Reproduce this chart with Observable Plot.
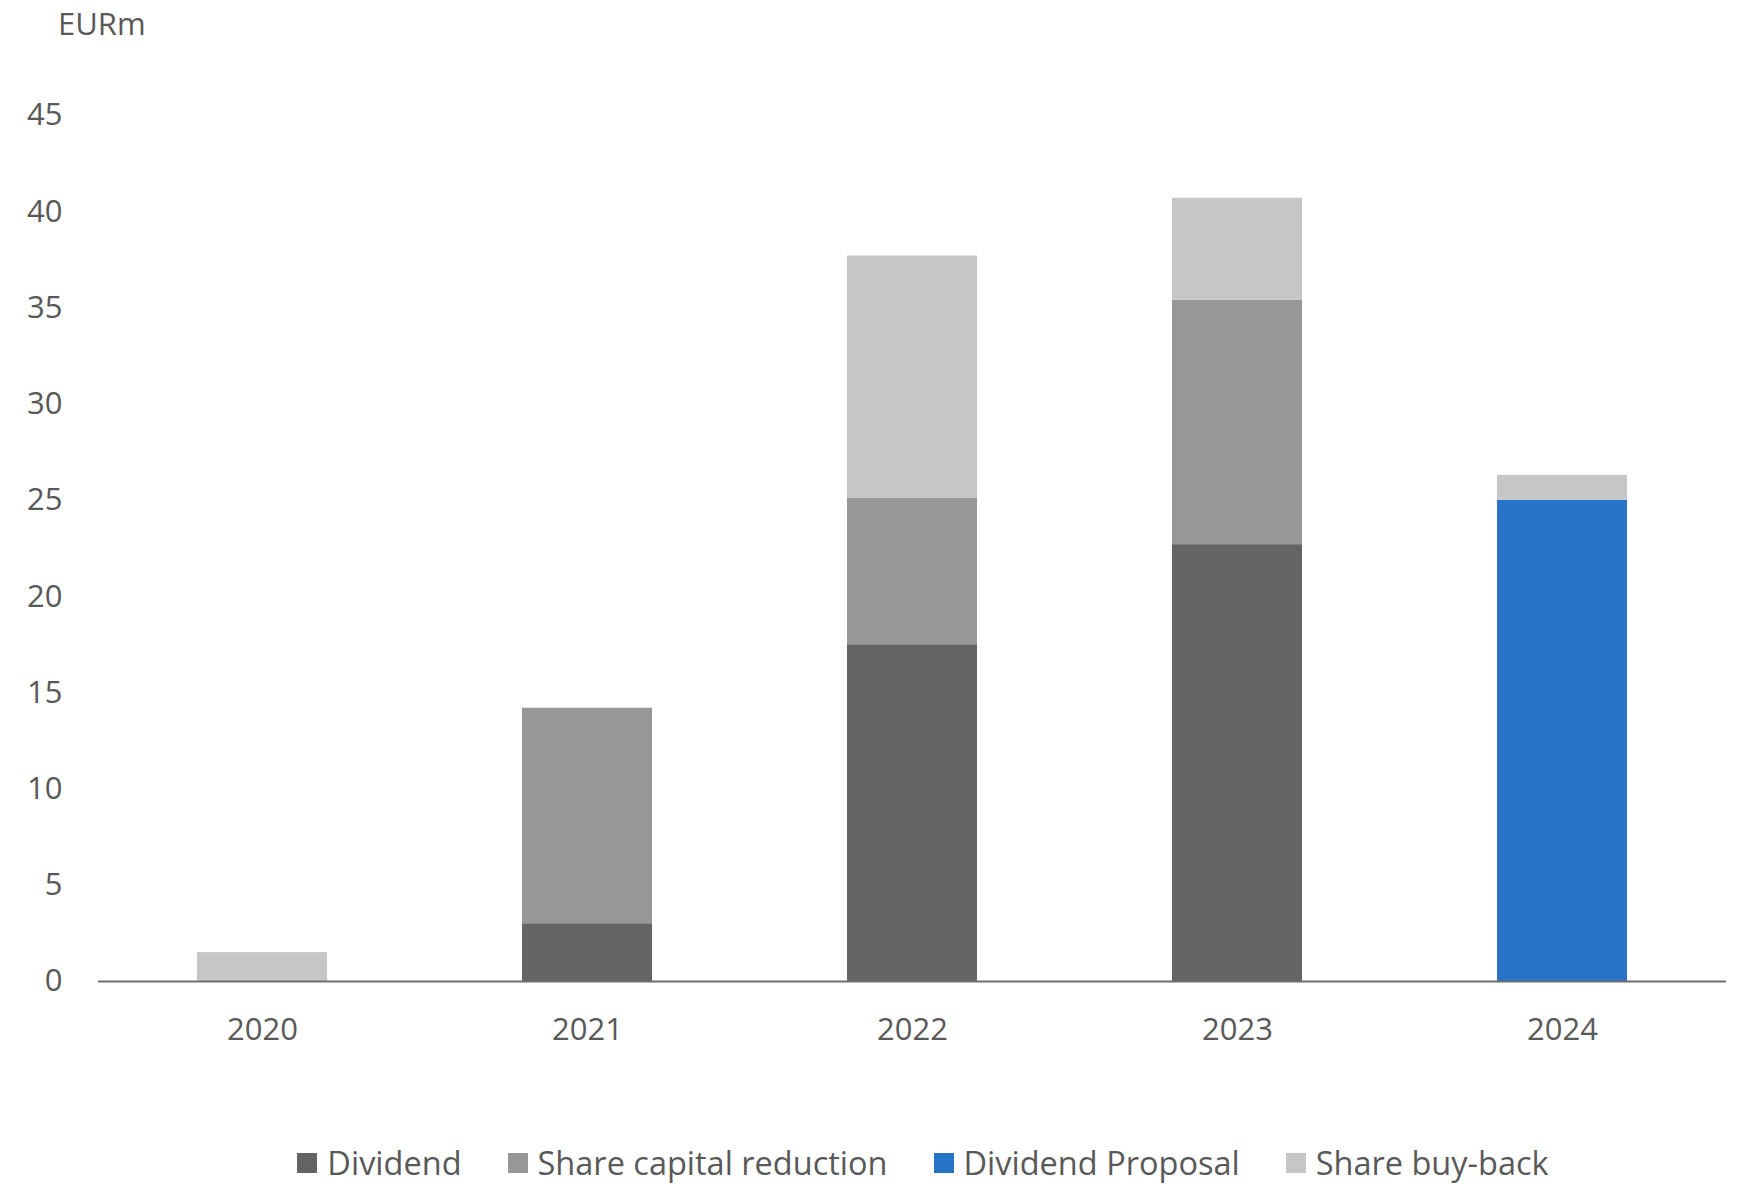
<!DOCTYPE html>
<html>
<head>
<meta charset="utf-8">
<script src="https://cdn.jsdelivr.net/npm/d3@7"></script>
<script src="https://cdn.jsdelivr.net/npm/@observablehq/plot@0.6"></script>
<style>
  html, body { margin: 0; padding: 0; background: #fff; }
  body { font-family: "Open Sans", sans-serif; color: #595959; }
  #page { position: relative; width: 1748px; height: 1187px; overflow: hidden; }
  #unit { position: absolute; left: 58px; top: 2px; font-size: 31px; line-height: normal; color: #595959; }
  #chart { position: absolute; left: 0; top: 50px; }
  #legend { position: absolute; left: 0; top: 1147px; width: 1748px; box-sizing: border-box; padding-left: 98px;
            display: flex; justify-content: center; gap: 46px; font-size: 32.5px; line-height: 32px; color: #595959; }
  .item { display: flex; align-items: center; gap: 10px; white-space: nowrap; }
  .sw { width: 20px; height: 20px; display: inline-block; }
</style>
</head>
<body>
<div id="page">
  <div id="unit">EURm</div>
  <div id="chart"></div>
  <div id="legend"></div>
</div>
<script>
const years = ["2020", "2021", "2022", "2023", "2024"];
const seriesNames = ["Dividend", "Share capital reduction", "Dividend Proposal", "Share buy-back"];
const seriesColors = ["#646464", "#979797", "#2773C8", "#C6C6C6"];
const dividend = [0, 3.0, 17.5, 22.7, 0];
const shareCapitalReduction = [0, 11.2, 7.6, 12.7, 0];
const dividendProposal = [0, 0, 0, 0, 25.0];
const shareBuyBack = [1.5, 0, 12.6, 5.3, 1.3];
const yTicks = [0, 5, 10, 15, 20, 25, 30, 35, 40, 45];

const seriesValues = [dividend, shareCapitalReduction, dividendProposal, shareBuyBack];
const rows = [];
seriesNames.forEach((s, i) => {
  years.forEach((y, j) => {
    const v = seriesValues[i][j];
    if (v > 0) rows.push({year: y, series: s, value: v});
  });
});

const W = 1748, H = 1070;
const chart = Plot.plot({
  width: W,
  height: H,
  marginLeft: 98,
  marginRight: 22,
  marginTop: 65,
  marginBottom: 139,
  style: {fontFamily: "'Open Sans', sans-serif", fontSize: "31px", color: "#595959", background: "#fff"},
  x: {domain: years, paddingInner: 0.6, paddingOuter: 0.3, label: null},
  y: {domain: [0, 45], label: null},
  color: {domain: seriesNames, range: seriesColors},
  marks: [
    Plot.barY(rows, {x: "year", y: "value", fill: "series", order: seriesNames}),
    Plot.ruleY([0], {stroke: "#6e6e6e", strokeWidth: 2}),
    Plot.axisY({ticks: yTicks, tickSize: 0, tickPadding: 36, fill: "#595959", fontSize: 31, label: null}),
    Plot.axisX({tickSize: 0, tickPadding: 36, fill: "#595959", fontSize: 31, label: null})
  ]
});
document.getElementById("chart").appendChild(chart);

const legend = document.getElementById("legend");
seriesNames.forEach((s, i) => {
  const it = document.createElement("div");
  it.className = "item";
  const sw = document.createElement("span");
  sw.className = "sw";
  sw.style.background = seriesColors[i];
  const t = document.createElement("span");
  t.textContent = s;
  it.appendChild(sw);
  it.appendChild(t);
  legend.appendChild(it);
});
</script>
</body>
</html>
